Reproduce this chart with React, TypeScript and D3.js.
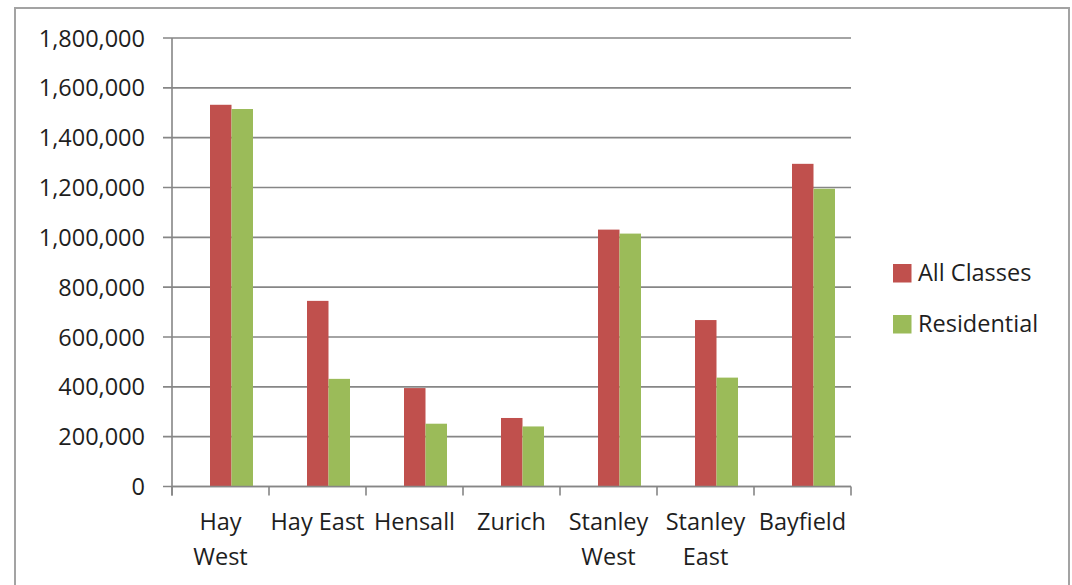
import { useEffect, useRef } from "react";
import * as d3 from "d3";

const CATEGORIES = [
  ["Hay", "West"],
  ["Hay East"],
  ["Hensall"],
  ["Zurich"],
  ["Stanley", "West"],
  ["Stanley", "East"],
  ["Bayfield"],
];
const SERIES = ["All Classes", "Residential"];
const ALL_CLASSES = [1532000, 745000, 395000, 275000, 1031000, 668000, 1295000];
const RESIDENTIAL = [1515000, 432000, 252000, 241000, 1015000, 437000, 1195000];
const Y_TICKS = [0, 200000, 400000, 600000, 800000, 1000000, 1200000, 1400000, 1600000, 1800000];

const COLORS: Record<string, string> = {
  "All Classes": "#c0504d",
  Residential: "#9bbb59",
};
const GRID = "#868686";
const FONT = "'Open Sans', sans-serif";
const INK = "#1e1e1e";

export default function App() {
  const svgRef = useRef<SVGSVGElement>(null);

  useEffect(() => {
    document.body.style.margin = "0";
    const svg = d3.select(svgRef.current);
    svg.selectAll("*").remove();

    const W = 1072;
    const H = 585;
    const plot = { left: 172, right: 851, top: 38, bottom: 486.5 };

    svg.append("rect").attr("width", W).attr("height", H).attr("fill", "#fff");

    // chart border (bottom edge runs off the page)
    svg.append("path")
      .attr("d", `M15,${H + 5}V8H1069V${H + 5}`)
      .attr("fill", "none").attr("stroke", "#a3a3a3").attr("stroke-width", 2);

    const labels = CATEGORIES.map((c) => c.join(" "));
    const x = d3.scaleBand().domain(labels).range([plot.left, plot.right]);
    const x1 = d3.scaleBand().domain(SERIES).range([38, 81]);
    const y = d3.scaleLinear().domain([0, 1800000]).range([plot.bottom, plot.top]);

    // gridlines + y ticks
    const g = svg.append("g");
    for (const t of Y_TICKS) {
      g.append("line")
        .attr("x1", plot.left - 9).attr("x2", plot.right)
        .attr("y1", y(t)).attr("y2", y(t))
        .attr("stroke", GRID).attr("stroke-width", 1.6);
      g.append("text")
        .attr("x", 145).attr("y", y(t) + 8.5)
        .attr("text-anchor", "end")
        .attr("font-family", FONT).attr("font-size", "23.5px").attr("fill", INK)
        .text(d3.format(",")(t));
    }

    // bars
    const seriesData = [ALL_CLASSES, RESIDENTIAL];
    SERIES.forEach((s, si) => {
      g.selectAll(`rect.s${si}`)
        .data(seriesData[si])
        .enter()
        .append("rect")
        .attr("x", (_d, i) => (x(labels[i]) ?? 0) + (x1(s) ?? 0))
        .attr("y", (d) => y(d))
        .attr("width", x1.bandwidth())
        .attr("height", (d) => y(0) - y(d))
        .attr("fill", COLORS[s]);
    });

    // axes lines
    g.append("line")
      .attr("x1", plot.left).attr("x2", plot.left)
      .attr("y1", plot.top).attr("y2", plot.bottom + 9)
      .attr("stroke", GRID).attr("stroke-width", 1.6);
    g.append("line")
      .attr("x1", plot.left).attr("x2", plot.right)
      .attr("y1", plot.bottom).attr("y2", plot.bottom)
      .attr("stroke", GRID).attr("stroke-width", 1.6);
    const bounds = labels.map((l) => x(l) ?? 0).concat([plot.right]);
    for (const bx of bounds) {
      g.append("line")
        .attr("x1", bx).attr("x2", bx)
        .attr("y1", plot.bottom).attr("y2", plot.bottom + 9)
        .attr("stroke", GRID).attr("stroke-width", 1.6);
    }

    // category labels
    CATEGORIES.forEach((lines, i) => {
      const cx = (x(labels[i]) ?? 0) + x.bandwidth() / 2;
      const t = g.append("text")
        .attr("text-anchor", "middle")
        .attr("font-family", FONT).attr("font-size", "23.5px").attr("fill", INK);
      lines.forEach((ln, li) => {
        t.append("tspan").attr("x", cx).attr("y", 530 + li * 34.5).text(ln);
      });
    });

    // legend
    SERIES.forEach((s, i) => {
      const ly = 264 + i * 51;
      g.append("rect")
        .attr("x", 893).attr("y", ly)
        .attr("width", 18.5).attr("height", 18.5)
        .attr("fill", COLORS[s]);
      g.append("text")
        .attr("x", 918).attr("y", ly + 17)
        .attr("font-family", FONT).attr("font-size", "23.5px").attr("fill", INK)
        .text(s);
    });
  }, []);

  return <svg ref={svgRef} width={1072} height={585} style={{ display: "block" }} />;
}
